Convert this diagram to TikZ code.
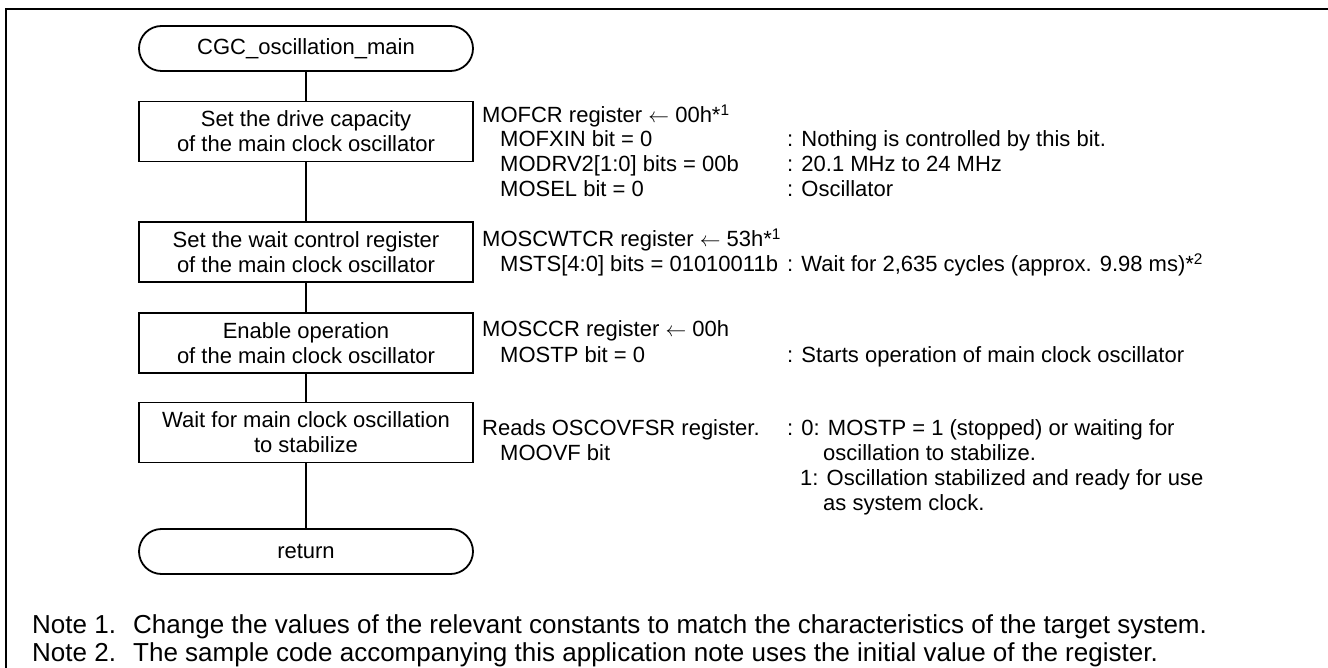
\documentclass[tikz,border=0pt]{standalone}
\usepackage{fontspec}
\setmainfont{Liberation Sans}
\newcommand\diagfont{\fontsize{22}{25}\selectfont}
\newcommand\notefont{\fontsize{26}{30}\selectfont}
\begin{document}
\begin{tikzpicture}[x=1pt,y=-1pt,
  stroke/.style={line width=1.8pt},
  procbox/.style={draw, stroke, minimum width=334pt, minimum height=60pt,
    align=center, font=\diagfont, inner sep=0pt},
  termbox/.style={draw, stroke, rounded corners=22.5pt, minimum width=334pt,
    minimum height=45pt, align=center, font=\diagfont, inner sep=0pt},
  txt/.style={anchor=base west, inner sep=0pt, font=\diagfont},
  notetxt/.style={anchor=base west, inner sep=0pt, font=\notefont},
  flow/.style={stroke}]
\useasboundingbox (0,0) rectangle (1328,668);

% frame
\draw[line width=2.4pt] (6,668) -- (6,9) -- (1328,9);

% flow chart
\node[termbox] (start) at (306,48.5) {CGC\_oscillation\_main};
\node[procbox] (b1) at (306,131.5) {Set the drive capacity\\of the main clock oscillator};
\node[procbox] (b2) at (306,252) {Set the wait control register\\of the main clock oscillator};
\node[procbox] (b3) at (306,343) {Enable operation\\of the main clock oscillator};
\node[procbox] (b4) at (306,432.5) {Wait for main clock oscillation\\to stabilize};
\node[termbox] (ret) at (306,551.5) {return};

\draw[flow] (start) -- (b1);
\draw[flow] (b1) -- (b2);
\draw[flow] (b2) -- (b3);
\draw[flow] (b3) -- (b4);
\draw[flow] (b4) -- (ret);

% register settings
\node[txt] (r1a) at (482,123) {MOFCR register $\leftarrow$ 00h*\textsuperscript{1}};
\node[txt] (r1b) at (500,147) {MOFXIN bit = 0};
\node[txt] (r1bc) at (787,147) {: Nothing is controlled by this bit.};
\node[txt] (r1c) at (500,172) {MODRV2[1:0] bits = 00b};
\node[txt] (r1cc) at (787,172) {: 20.1 MHz to 24 MHz};
\node[txt] (r1d) at (500,197) {MOSEL bit = 0};
\node[txt] (r1dc) at (787,197) {: Oscillator};

\node[txt] (r2a) at (482,247) {MOSCWTCR register $\leftarrow$ 53h*\textsuperscript{1}};
\node[txt] (r2b) at (500,272) {MSTS[4:0] bits = 01010011b};
\node[txt] (r2bc) at (787,272) {: Wait for 2,635 cycles (approx. 9.98 ms)*\textsuperscript{2}};

\node[txt] (r3a) at (482,337) {MOSCCR register $\leftarrow$ 00h};
\node[txt] (r3b) at (500,362) {MOSTP bit = 0};
\node[txt] (r3bc) at (787,362) {: Starts operation of main clock oscillator};

\node[txt] (r4a) at (482,435) {Reads OSCOVFSR register.};
\node[txt] (r4ac) at (787,435) {: 0: MOSTP = 1 (stopped) or waiting for};
\node[txt] (r4b) at (500,460) {MOOVF bit};
\node[txt] (r4bc) at (823,460) {oscillation to stabilize.};
\node[txt] (r4c) at (800,485) {1: Oscillation stabilized and ready for use};
\node[txt] (r4d) at (823,510) {as system clock.};

% notes
\node[notetxt] (n1) at (32,633) {Note 1.};
\node[notetxt] (n1t) at (133,633) {Change the values of the relevant constants to match the characteristics of the target system.};
\node[notetxt] (n2) at (32,661) {Note 2.};
\node[notetxt] (n2t) at (133,661) {The sample code accompanying this application note uses the initial value of the register.};
\end{tikzpicture}
\end{document}
